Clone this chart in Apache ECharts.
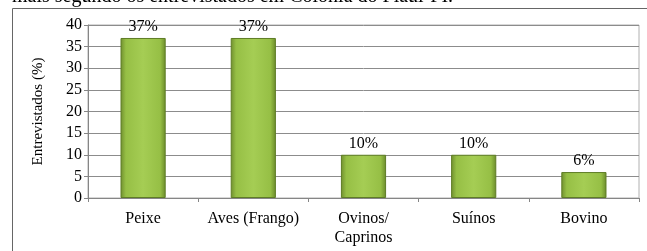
<!DOCTYPE html>
<html>
<head>
<meta charset="utf-8">
<script src="https://cdn.jsdelivr.net/npm/echarts@6/dist/echarts.min.js"></script>
<style>
  html, body { margin: 0; padding: 0; background: #fff; }
  #chart { width: 647px; height: 251px; }
</style>
</head>
<body>
<div id="chart"></div>
<script>
// dados
const categorias = ['Peixe', 'Aves (Frango)', 'Ovinos/\nCaprinos', 'Suínos', 'Bovino']
const entrevistados = [37, 37, 10, 10, 6]
const rotulos = ['37%', '37%', '10%', '10%', '6%']
const fonteSerif = '"Liberation Serif", "DejaVu Serif", serif'

const barraCor = new echarts.graphic.LinearGradient(0, 0, 1, 0, [
  { offset: 0, color: '#6f8e2e' },
  { offset: 0.12, color: '#96bf45' },
  { offset: 0.5, color: '#a5cd54' },
  { offset: 0.88, color: '#96bf45' },
  { offset: 1, color: '#6a8a2b' }
])

const chart = echarts.init(document.getElementById('chart'))
chart.setOption({
  animation: false,
  graphic: [
    { // texto cortado acima do gráfico
      type: 'text',
      left: 12,
      top: -13,
      style: {
        text: 'mais segundo os entrevistados em Colônia do Piauí-PI.',
        font: '20px ' + fonteSerif,
        fill: '#000'
      }
    },
    { // moldura externa
      type: 'rect',
      shape: { x: 12.5, y: 8.5, width: 700, height: 300 },
      style: { fill: 'none', stroke: '#666', lineWidth: 1 }
    }
  ],
  grid: {
    left: 88,
    right: 8,
    top: 25,
    bottom: 53,
    show: true,
    borderColor: '#b0b0b0',
    borderWidth: 1
  },
  xAxis: {
    type: 'category',
    data: categorias,
    axisLine: { lineStyle: { color: '#868686' } },
    axisTick: { show: true, length: 4, lineStyle: { color: '#868686' } },
    axisLabel: {
      interval: 0,
      hideOverlap: false,
      margin: 11,
      color: '#000',
      fontFamily: fonteSerif,
      fontSize: 16,
      lineHeight: 19,
      verticalAlign: 'top'
    }
  },
  yAxis: {
    type: 'value',
    min: 0,
    max: 40,
    interval: 5,
    name: 'Entrevistados (%)',
    nameLocation: 'middle',
    nameGap: 42,
    nameRotate: 90,
    nameTextStyle: { color: '#000', fontFamily: fonteSerif, fontSize: 15 },
    axisLine: { show: true, lineStyle: { color: '#868686' } },
    axisTick: { show: true, length: 4, lineStyle: { color: '#868686' } },
    axisLabel: { margin: 6, color: '#000', fontFamily: fonteSerif, fontSize: 16 },
    splitLine: { lineStyle: { color: '#8c8c8c' } }
  },
  series: [
    {
      type: 'bar',
      data: entrevistados,
      barWidth: '41%',
      itemStyle: { color: barraCor, borderColor: '#5f7d26', borderWidth: 1 },
      label: {
        show: true,
        position: 'top',
        distance: 3,
        color: '#000',
        fontFamily: fonteSerif,
        fontSize: 16,
        formatter: p => rotulos[p.dataIndex]
      }
    }
  ]
})
</script>
</body>
</html>
